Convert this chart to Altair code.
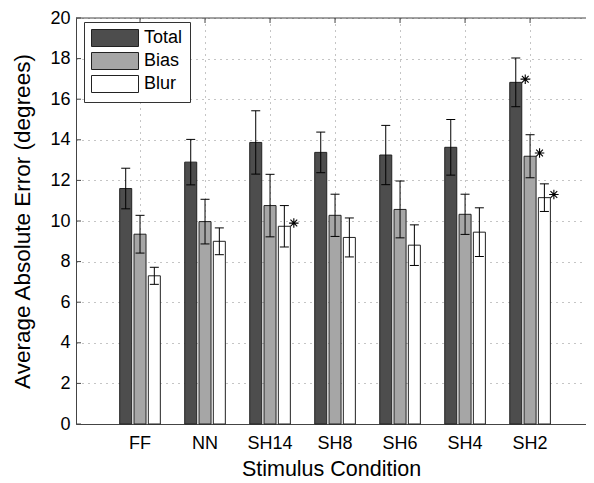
import altair as alt
import pandas as pd

conditions = ["FF", "NN", "SH14", "SH8", "SH6", "SH4", "SH2"]
series_names = ["Total", "Bias", "Blur"]
series_colors = ["#4d4d4d", "#a6a6a6", "#ffffff"]

total = [11.6, 12.9, 13.87, 13.38, 13.25, 13.63, 16.83]
total_err = [1.0, 1.12, 1.56, 1.0, 1.46, 1.37, 1.2]
bias = [9.35, 9.97, 10.76, 10.28, 10.57, 10.33, 13.19]
bias_err = [0.93, 1.1, 1.54, 1.04, 1.4, 0.99, 1.06]
blur = [7.3, 9.0, 9.74, 9.19, 8.81, 9.45, 11.15]
blur_err = [0.42, 0.66, 1.02, 0.96, 1.0, 1.2, 0.68]
total_sig = [False, False, False, False, False, False, True]
bias_sig = [False, False, False, False, False, False, True]
blur_sig = [False, False, True, False, False, False, True]
y_ticks = [0, 2, 4, 6, 8, 10, 12, 14, 16, 18, 20]

rows = []
for name, vals, errs, sigs in zip(series_names, [total, bias, blur],
                                  [total_err, bias_err, blur_err],
                                  [total_sig, bias_sig, blur_sig]):
    for c, v, e, s in zip(conditions, vals, errs, sigs):
        rows.append({"cond": c, "series": name, "value": v,
                     "lo": v - e, "hi": v + e, "sig": s})
df = pd.DataFrame(rows)
ticks_df = pd.DataFrame({"t": y_ticks})
cond_df = pd.DataFrame({"cond": conditions})

W, H = 510, 406
FONT = "Liberation Sans"

xscale = alt.Scale(domain=conditions, paddingInner=0.375, paddingOuter=0.61, align=0.551)
yscale = alt.Scale(domain=[0, 20], nice=False, zero=True)
offscale = alt.Scale(domain=series_names, paddingInner=0.16, paddingOuter=0)

X = alt.X("cond:N", scale=xscale, sort=conditions,
          axis=alt.Axis(title="Stimulus Condition", labelAngle=0, grid=True,
                        bandPosition=0.5, ticks=False, tickSize=0,
                        labelPadding=10, titlePadding=6,
                        labelFontSize=18, titleFontSize=21.5,
                        gridDash=[1, 5], gridColor="#8a8a8a", gridWidth=1,
                        domainColor="#444", titleFontWeight="normal",
                        labelFont=FONT, titleFont=FONT, labelColor="black",
                        titleColor="black"))
XO = alt.XOffset("series:N", scale=offscale, sort=series_names)
Y = alt.Y("value:Q", scale=yscale,
          axis=alt.Axis(title="Average Absolute Error (degrees)", values=y_ticks,
                        grid=True, ticks=False, tickSize=0, labelPadding=6,
                        titlePadding=15, labelFontSize=18, titleFontSize=22.5,
                        gridDash=[1, 5], gridColor="#8a8a8a", gridWidth=1,
                        domainColor="#444", titleFontWeight="normal",
                        labelFont=FONT, titleFont=FONT, labelColor="black",
                        titleColor="black"))

base = alt.Chart(df)

legend_path = "M-1,-1H4.53V1H-1Z"
bars = base.mark_bar(stroke="#222", strokeWidth=1, opacity=1).encode(
    x=X, xOffset=XO, y=Y,
    color=alt.Color("series:N", sort=series_names,
                    scale=alt.Scale(domain=series_names, range=series_colors),
                    legend=alt.Legend(title=None, orient="none", legendX=8, legendY=4,
                                      symbolType=legend_path, symbolSize=289,
                                      symbolStrokeColor="#222", symbolStrokeWidth=1,
                                      symbolOpacity=1, labelOffset=35,
                                      labelFontSize=18, labelFont=FONT,
                                      labelColor="black", rowPadding=1,
                                      padding=7, strokeColor="#333",
                                      fillColor="white")),
)

err = base.mark_rule(color="black", strokeWidth=1).encode(
    x="cond:N", xOffset=XO, y=alt.Y("lo:Q"), y2="hi:Q")
cap_hi = base.mark_tick(orient="horizontal", size=9, thickness=1, color="black",
                        opacity=1).encode(x="cond:N", xOffset=XO, y=alt.Y("hi:Q"))
cap_lo = base.mark_tick(orient="horizontal", size=9, thickness=1, color="black",
                        opacity=1).encode(x="cond:N", xOffset=XO, y=alt.Y("lo:Q"))

star_path = ("M1,-0.67H3M2,-1.67V0.33"
             "M1.29,-1.38L2.71,0.04M1.29,0.04L2.71,-1.38")
stars = base.transform_filter(alt.datum.sig == True).mark_point(
    shape=star_path, size=90, filled=False, stroke="black", strokeWidth=1.1,
    opacity=1).encode(x="cond:N", xOffset=XO, y=alt.Y("value:Q"))

top_border = alt.Chart(ticks_df).transform_filter(alt.datum.t == 20).mark_rule(
    color="#444", strokeWidth=1).encode(y=alt.Y("t:Q"), x=alt.value(0), x2=alt.value(W))
left_ticks = alt.Chart(ticks_df).mark_rule(color="#444", strokeWidth=1).encode(
    y=alt.Y("t:Q"), x=alt.value(0), x2=alt.value(5))
top_ticks = alt.Chart(cond_df).mark_rule(color="#444", strokeWidth=1).encode(
    x=alt.X("cond:N"), y=alt.value(0), y2=alt.value(5))

chart = alt.layer(bars, err, cap_hi, cap_lo, stars, top_border, left_ticks, top_ticks).properties(
    width=W, height=H,
    autosize=alt.AutoSizeParams(type="none"),
    padding={"left": 68, "top": 10, "right": 0, "bottom": 58},
    background="white",
).configure_view(stroke=None).configure_axis(domainWidth=1)

chart.save("out.html", embed_options={"renderer": "svg", "actions": False})
